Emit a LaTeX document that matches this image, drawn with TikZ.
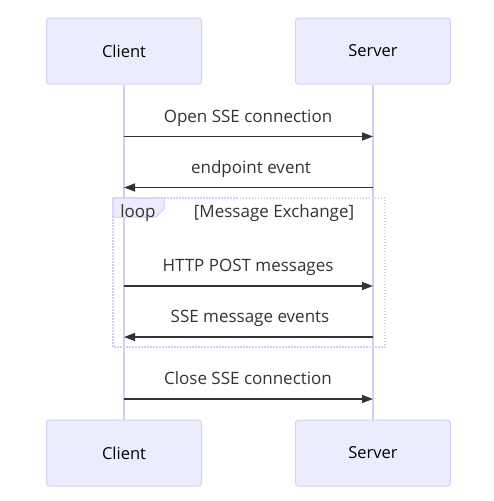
\documentclass[tikz,border=0pt]{standalone}
\usepackage{fontspec}
\setmainfont{Open Sans}
\usetikzlibrary{arrows.meta}
\definecolor{actfill}{HTML}{ECECFF}
\definecolor{actborder}{HTML}{D6D2F4}
\definecolor{lifeline}{HTML}{D6CCF3}
\definecolor{txt}{HTML}{333333}
\begin{document}
\begin{tikzpicture}[x=1pt,y=-1pt,
  actor/.style={draw=actborder,fill=actfill,rounded corners=3pt,line width=1pt,minimum width=155pt,minimum height=66pt,inner sep=0pt,font=\fontsize{16.5}{19}\selectfont,text=black},
  msgtxt/.style={font=\fontsize{17}{20}\selectfont,text=txt,inner sep=0pt,anchor=base},
  msg/.style={draw=txt,line width=1.4pt,-{Triangle[length=11pt,width=8pt]}},
  life/.style={draw=lifeline,line width=1.5pt}]
\useasboundingbox (0,0) rectangle (494,501);
\node[actor] (c1) at (124,51) {Client};
\node[actor] (s1) at (373,51) {Server};
\node[actor] (c2) at (124,453) {Client};
\node[actor] (s2) at (373,453) {Server};
\draw[life] (c1.south) -- (c2.north);
\draw[life] (s1.south) -- (s2.north);
% loop box
\draw[lifeline,line width=1.5pt,dash pattern=on 1.5pt off 1.5pt] (113,198) rectangle (385,347);
\draw[lifeline,fill=actfill,line width=1pt] (113,198) -- (164,198) -- (164,209) -- (156,217) -- (113,217) -- cycle;
\node[msgtxt] (lp) at (138,217) {loop};
\node[msgtxt] (lx) at (274,217) {[Message Exchange]};
% messages
\coordinate (a1c) at (124,136.5); \coordinate (a1s) at (373,136.5);
\coordinate (a2c) at (124,187.5); \coordinate (a2s) at (373,187.5);
\coordinate (a3c) at (124,286); \coordinate (a3s) at (373,286);
\coordinate (a4c) at (124,337); \coordinate (a4s) at (373,337);
\coordinate (a5c) at (124,399); \coordinate (a5s) at (373,399);
\draw[msg] (a1c) -- (a1s);
\draw[msg] (a2s) -- (a2c);
\draw[msg] (a3c) -- (a3s);
\draw[msg] (a4s) -- (a4c);
\draw[msg] (a5c) -- (a5s);
\node[msgtxt] (t1) at (248,122) {Open SSE connection};
\node[msgtxt] (t2) at (251,173) {endpoint event};
\node[msgtxt] (t3) at (248,271) {HTTP POST messages};
\node[msgtxt] (t4) at (250,322) {SSE message events};
\node[msgtxt] (t5) at (248,384) {Close SSE connection};
\end{tikzpicture}
\end{document}
